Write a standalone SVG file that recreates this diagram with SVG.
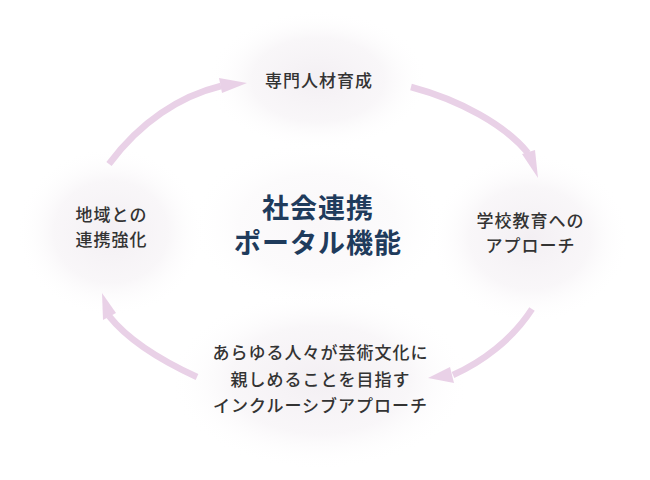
<svg xmlns="http://www.w3.org/2000/svg" width="650" height="480" viewBox="0 0 650 480">
<defs>
<radialGradient id="glow">
<stop offset="0" stop-color="#f3eff3" stop-opacity="1"/>
<stop offset="0.6" stop-color="#f6f3f6" stop-opacity="0.7"/>
<stop offset="1" stop-color="#ffffff" stop-opacity="0"/>
</radialGradient>
<style>
.lbl{font-family:"Noto Sans CJK JP","Noto Sans",sans-serif;font-size:17px;fill:#333333;letter-spacing:1px;text-anchor:middle;font-weight:500}
.ttl{font-family:"Noto Sans CJK JP","Noto Sans",sans-serif;font-size:27px;fill:#1f3b5c;letter-spacing:1px;text-anchor:middle;font-weight:700}
.arc{fill:none;stroke:#e9d1e7;stroke-width:6.5}
.head{fill:#e9d1e7}
</style>
</defs>
<rect width="650" height="480" fill="#ffffff"/>
<g id="glows">
<ellipse cx="318" cy="80" rx="110" ry="70" fill="url(#glow)"/>
<ellipse cx="111" cy="232" rx="95" ry="85" fill="url(#glow)"/>
<ellipse cx="530" cy="238" rx="100" ry="85" fill="url(#glow)"/>
<ellipse cx="320" cy="380" rx="150" ry="90" fill="url(#glow)"/>
<ellipse cx="318" cy="225" rx="130" ry="85" fill="url(#glow)" opacity="0.5"/>
</g>
<g id="connectors">
<path class="arc" d="M109,164 C140,122 180,96 221,86"/>
<polygon class="head" points="247,83 219,78 222,93"/>
<path class="arc" d="M411,87 C460,100 505,125 528,153"/>
<polygon class="head" points="538,178 522,154 535,150"/>
<path class="arc" d="M532,309 C512,340 482,362 453,375"/>
<polygon class="head" points="428,378 450,367 454,383"/>
<path class="arc" d="M197,377 C160,360 128,340 109,316"/>
<polygon class="head" points="102,293 103,320 116,313"/>
</g>
<g id="node-top"><text class="lbl" x="319" y="87">専門人材育成</text></g>
<g id="node-left">
<text class="lbl" x="111.5" y="221">地域との</text>
<text class="lbl" x="111.5" y="246">連携強化</text>
</g>
<g id="node-right">
<text class="lbl" x="530.5" y="227">学校教育への</text>
<text class="lbl" x="530.5" y="252">アプローチ</text>
</g>
<g id="node-bottom">
<text class="lbl" x="320.5" y="359">あらゆる人々が芸術文化に</text>
<text class="lbl" x="320.5" y="385.5">親しめることを目指す</text>
<text class="lbl" x="320.5" y="411.5">インクルーシブアプローチ</text>
</g>
<g id="node-center">
<text class="ttl" x="318" y="217.5">社会連携</text>
<text class="ttl" x="318" y="253">ポータル機能</text>
</g>
</svg>
